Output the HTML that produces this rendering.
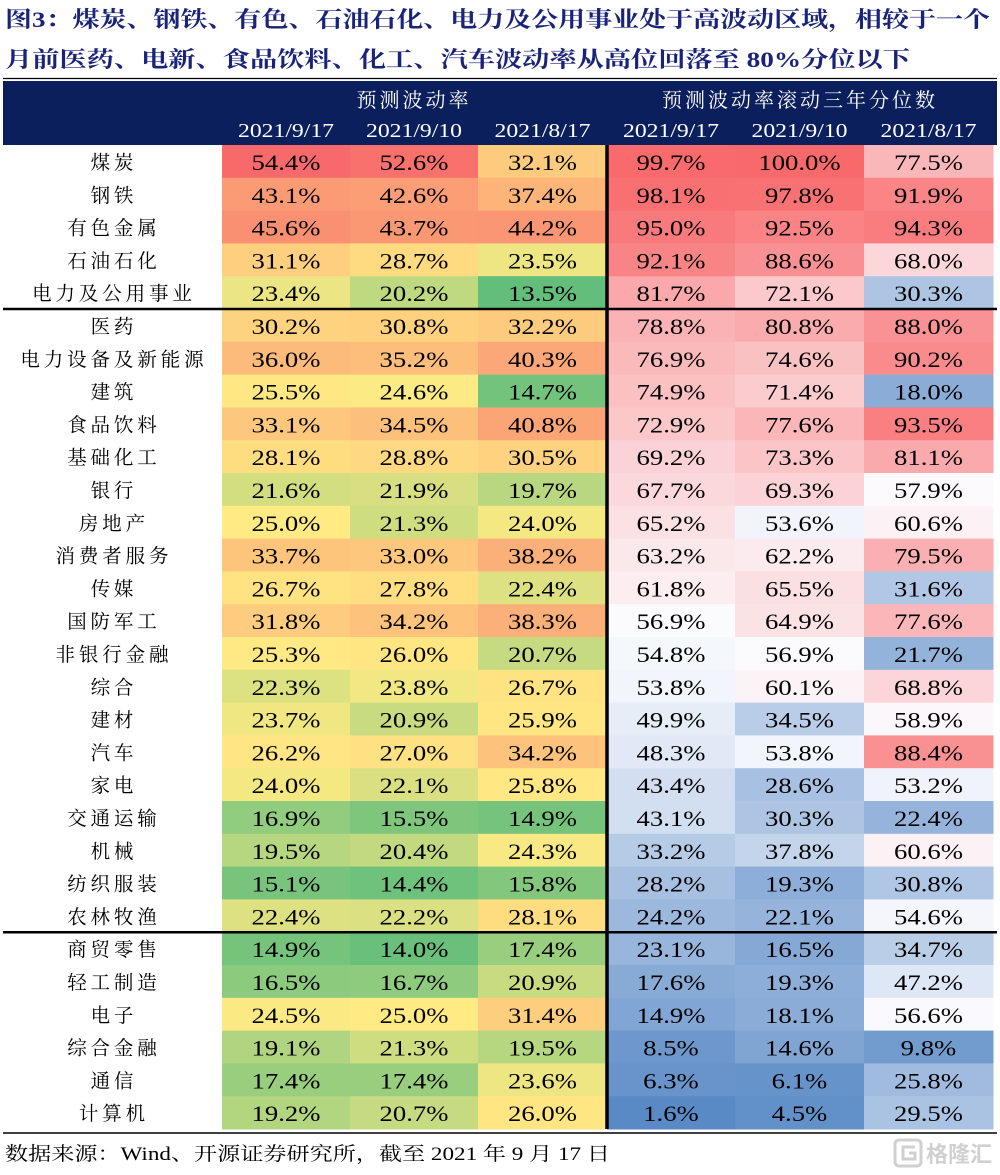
<!DOCTYPE html>
<html><head><meta charset="utf-8"><style>
html,body{margin:0;padding:0;background:#fff;}
svg{display:block;}
</style></head><body>
<svg id="chart" width="1000" height="1175" viewBox="0 0 1000 1175" xmlns="http://www.w3.org/2000/svg">
<text x="5" y="27" font-family="Liberation Serif, Noto Serif CJK SC, serif" font-weight="bold" font-size="22" fill="#1a237a" textLength="985" lengthAdjust="spacingAndGlyphs">图3：煤炭、钢铁、有色、石油石化、电力及公用事业处于高波动区域，相较于一个</text>
<text x="5" y="67" font-family="Liberation Serif, Noto Serif CJK SC, serif" font-weight="bold" font-size="22" fill="#1a237a" textLength="905" lengthAdjust="spacingAndGlyphs">月前医药、电新、食品饮料、化工、汽车波动率从高位回落至 80%分位以下</text>
<line x1="3" y1="78.5" x2="997" y2="78.5" stroke="#000" stroke-width="1.2"/>
<rect x="3" y="81" width="994" height="64" fill="#0b1f5c"/>
<text x="414" y="107" text-anchor="middle" font-family="Noto Serif CJK SC, serif" font-size="20" fill="#fff" letter-spacing="3">预测波动率</text>
<text x="800" y="107" text-anchor="middle" font-family="Noto Serif CJK SC, serif" font-size="20" fill="#fff" letter-spacing="3">预测波动率滚动三年分位数</text>
<g id="cells"></g>
<line x1="3" y1="1133" x2="997" y2="1133" stroke="#000" stroke-width="1.5"/>
<text x="5" y="1160" font-family="Liberation Serif, Noto Serif CJK SC, serif" font-size="19" fill="#000" textLength="605" lengthAdjust="spacingAndGlyphs">数据来源：Wind、开源证券研究所，截至 2021 年 9 月 17 日</text>
<g opacity="0.55">
<rect x="895" y="1140" width="26" height="26" rx="4" fill="none" stroke="#aaa" stroke-width="3"/>
<path d="M915 1147 h-12 v12 h12 v-6 h-6" fill="none" stroke="#aaa" stroke-width="3"/>
<text x="926" y="1162" font-family="Noto Sans CJK SC, sans-serif" font-size="22" font-weight="bold" fill="#aaa">格隆汇</text>
</g>
</svg>
<script>
const industries=["煤炭","钢铁","有色金属","石油石化","电力及公用事业","医药","电力设备及新能源","建筑","食品饮料","基础化工","银行","房地产","消费者服务","传媒","国防军工","非银行金融","综合","建材","汽车","家电","交通运输","机械","纺织服装","农林牧渔","商贸零售","轻工制造","电子","综合金融","通信","计算机"];
const dates=["2021/9/17","2021/9/10","2021/8/17"];
const vol0917=[54.4,43.1,45.6,31.1,23.4,30.2,36.0,25.5,33.1,28.1,21.6,25.0,33.7,26.7,31.8,25.3,22.3,23.7,26.2,24.0,16.9,19.5,15.1,22.4,14.9,16.5,24.5,19.1,17.4,19.2];
const vol0910=[52.6,42.6,43.7,28.7,20.2,30.8,35.2,24.6,34.5,28.8,21.9,21.3,33.0,27.8,34.2,26.0,23.8,20.9,27.0,22.1,15.5,20.4,14.4,22.2,14.0,16.7,25.0,21.3,17.4,20.7];
const vol0817=[32.1,37.4,44.2,23.5,13.5,32.2,40.3,14.7,40.8,30.5,19.7,24.0,38.2,22.4,38.3,20.7,26.7,25.9,34.2,25.8,14.9,24.3,15.8,28.1,17.4,20.9,31.4,19.5,23.6,26.0];
const pct0917=[99.7,98.1,95.0,92.1,81.7,78.8,76.9,74.9,72.9,69.2,67.7,65.2,63.2,61.8,56.9,54.8,53.8,49.9,48.3,43.4,43.1,33.2,28.2,24.2,23.1,17.6,14.9,8.5,6.3,1.6];
const pct0910=[100.0,97.8,92.5,88.6,72.1,80.8,74.6,71.4,77.6,73.3,69.3,53.6,62.2,65.5,64.9,56.9,60.1,34.5,53.8,28.6,30.3,37.8,19.3,22.1,16.5,19.3,18.1,14.6,6.1,4.5];
const pct0817=[77.5,91.9,94.3,68.0,30.3,88.0,90.2,18.0,93.5,81.1,57.9,60.6,79.5,31.6,77.6,21.7,68.8,58.9,88.4,53.2,22.4,60.6,30.8,54.6,34.7,47.2,56.6,9.8,25.8,29.5];

const NS="http://www.w3.org/2000/svg";
const g=document.getElementById('cells');
const colX=[222,350,478,607,735,864,993];
const top0=145, rowH=32.8;
const yOf=i=>top0+i*rowH;
function median(a){const s=[...a].sort((x,y)=>x-y);const n=s.length;return n%2?s[(n-1)/2]:(s[n/2-1]+s[n/2])/2;}
function lerp(c1,c2,t){return 'rgb('+c1.map((v,k)=>Math.round(v+(c2[k]-v)*t)).join(',')+')';}
function scale3(v,mn,md,mx,cmin,cmid,cmax){
  if(v<=md) return lerp(cmin,cmid,(v-mn)/(md-mn||1));
  return lerp(cmid,cmax,(v-md)/(mx-md||1));
}
const left=[vol0917,vol0910,vol0817], right=[pct0917,pct0910,pct0817];
const lAll=left.flat(), rAll=right.flat();
const lMin=Math.min(...lAll), lMax=Math.max(...lAll), lMed=median(lAll);
const rMin=Math.min(...rAll), rMax=Math.max(...rAll), rMed=median(rAll);
const RED=[248,105,107], YEL=[255,235,132], GRN=[99,190,123], WHT=[252,252,255], BLU=[90,138,198];
const TNR="Liberation Serif, Noto Serif CJK SC, serif";
function mk(tag,attrs){const e=document.createElementNS(NS,tag);for(const k in attrs)e.setAttribute(k,attrs[k]);return e;}

for(let c=0;c<6;c++){
  const t=mk('text',{x:(colX[c]+colX[c+1])/2,y:137,'text-anchor':'middle','font-family':TNR,'font-size':20,fill:'#fff',textLength:96,lengthAdjust:'spacingAndGlyphs'});
  
  
  t.textContent=dates[c%3];
  g.appendChild(t);
}
function natW(s){let w=0;for(const ch of s){w+=ch==='.'?5:ch==='%'?16.7:10;}return w;}
industries.forEach((name,i)=>{
  const y=yOf(i);
  const lab=mk('text',{x:112,y:y+24,'text-anchor':'middle','font-family':'Noto Serif CJK SC, serif','font-size':19.5,fill:'#000',textLength:name.length*23.4-4,lengthAdjust:'spacing'});
  
  
  lab.textContent=name;
  g.appendChild(lab);
  for(let c=0;c<6;c++){
    const v=c<3?left[c][i]:right[c-3][i];
    const fill=c<3?scale3(v,lMin,lMed,lMax,GRN,YEL,RED):scale3(v,rMin,rMed,rMax,BLU,WHT,RED);
    const r=mk('rect',{x:colX[c],y:y,width:colX[c+1]-colX[c]+0.5,height:rowH+0.5,fill:fill});
    
    
    g.appendChild(r);
    const s=v.toFixed(1)+'%';
    const t=mk('text',{x:(colX[c]+colX[c+1])/2,y:y+25,'text-anchor':'middle','font-family':TNR,'font-size':22,fill:'#000',textLength:(natW(s)*1.05*1.27).toFixed(1),lengthAdjust:'spacingAndGlyphs'});
    
    
    t.textContent=s;
    g.appendChild(t);
  }
});
const bottom=yOf(industries.length);
[5,24].forEach(k=>{
  const l=mk('line',{x1:3,x2:997,y1:yOf(k),y2:yOf(k),stroke:'#000','stroke-width':2.5});
  
  
  g.appendChild(l);
});
const vl=mk('line',{x1:607,x2:607,y1:top0,y2:bottom,stroke:'#000','stroke-width':3.5});


g.appendChild(vl);
</script>
</body></html>
